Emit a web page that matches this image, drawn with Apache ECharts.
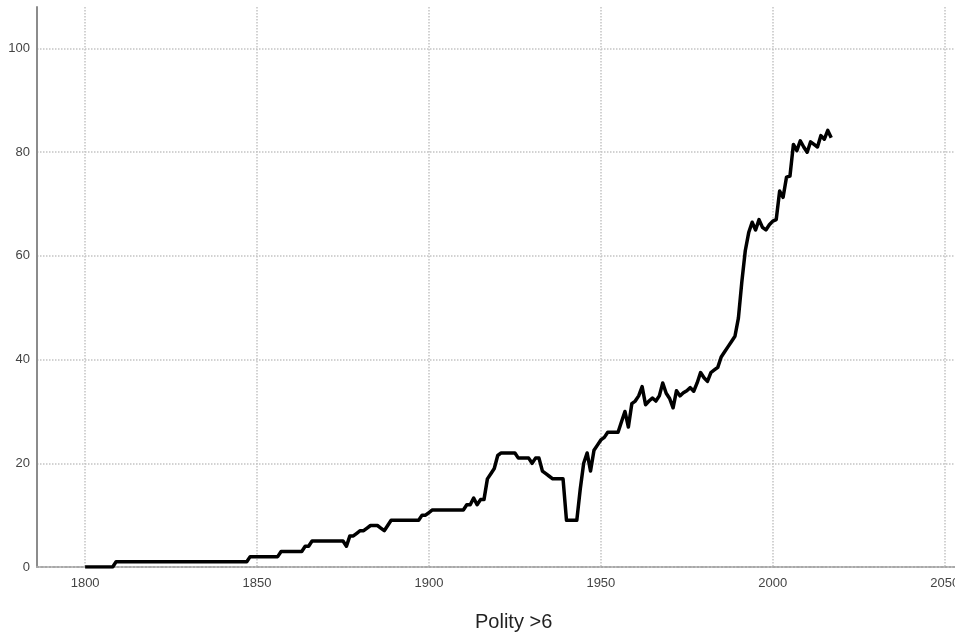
<!DOCTYPE html>
<html>
<head>
<meta charset="utf-8">
<script src="https://cdn.jsdelivr.net/npm/echarts@6/dist/echarts.min.js"></script>
<style>
html,body{margin:0;padding:0;background:#fff;}
#chart{width:955px;height:639px;}
</style>
</head>
<body>
<div id="chart"></div>
<script>
const startYear = 1800;
const polityValues = [
  // 1800-1809
  0,0,0,0,0,0,0,0,0,1,
  // 1810-1819
  1,1,1,1,1,1,1,1,1,1,
  // 1820-1829
  1,1,1,1,1,1,1,1,1,1,
  // 1830-1839
  1,1,1,1,1,1,1,1,1,1,
  // 1840-1849
  1,1,1,1,1,1,1,1,2,2,
  // 1850-1859
  2,2,2,2,2,2,2,3,3,3,
  // 1860-1869
  3,3,3,3,4,4,5,5,5,5,
  // 1870-1879
  5,5,5,5,5,5,4,6,6,6.5,
  // 1880-1889
  7,7,7.5,8,8,8,7.5,7,8,9,
  // 1890-1899
  9,9,9,9,9,9,9,9,10,10,
  // 1900-1909
  10.5,11,11,11,11,11,11,11,11,11,
  // 1910-1919
  11,12,12,13.3,12,13,13,17,18,19,
  // 1920-1929
  21.5,22,22,22,22,22,21,21,21,21,
  // 1930-1939
  20,21,21,18.5,18,17.5,17,17,17,17,
  // 1940-1949
  9,9,9,9,15,20,22,18.5,22.5,23.5,
  // 1950-1959
  24.5,25,26,26,26,26,28,30,27,31.5,
  // 1960-1969
  32,33,34.8,31.3,32,32.6,32,33,35.5,33.5,
  // 1970-1979
  32.5,30.7,34,33,33.6,34,34.6,33.9,35.5,37.5,
  // 1980-1989
  36.5,35.8,37.5,38,38.5,40.5,41.5,42.5,43.5,44.5,
  // 1990-1999
  48,55,61,64.5,66.5,65,67,65.5,65,66,
  // 2000-2009
  66.7,67,72.5,71.3,75.2,75.4,81.5,80.3,82.2,81,
  // 2010-2017
  80,82,81.5,81,83.2,82.5,84.2,82.8
];
const xTickValues = [1800, 1850, 1900, 1950, 2000, 2050];
const yTickValues = [0, 20, 40, 60, 80, 100];
const axisTitle = 'Polity >6';

const seriesData = polityValues.map((v, i) => [startYear + i, v]);

const chart = echarts.init(document.getElementById('chart'), null, {renderer: 'canvas'});
chart.setOption({
  backgroundColor: '#ffffff',
  animation: false,
  grid: {left: 37, right: 0, top: 7, bottom: 72, containLabel: false, outerBoundsMode: 'none'},
  xAxis: {
    type: 'value',
    min: 1786,
    max: 2053,
    axisLine: {show: true, lineStyle: {color: '#a8a8a8', width: 2, type: 'dotted'}},
    axisTick: {show: false, customValues: xTickValues},
    axisLabel: {
      customValues: xTickValues,
      color: '#444',
      fontFamily: 'Liberation Sans, Arial, sans-serif',
      fontSize: 13,
      margin: 10,
      formatter: v => String(v)
    },
    splitLine: {show: true, lineStyle: {color: '#c4c4c4', width: 1.5, type: 'dotted'}}
  },
  yAxis: {
    type: 'value',
    min: 0,
    max: 108,
    axisLine: {show: true, lineStyle: {color: '#8c8c8c', width: 2}},
    axisTick: {show: false, customValues: yTickValues},
    axisLabel: {
      customValues: yTickValues,
      color: '#444',
      fontFamily: 'Liberation Sans, Arial, sans-serif',
      fontSize: 13,
      margin: 7
    },
    splitLine: {show: true, lineStyle: {color: '#c4c4c4', width: 1.5, type: 'dotted'}}
  },
  graphic: [{
    type: 'text',
    left: 475,
    top: 612,
    style: {
      text: axisTitle,
      fill: '#222',
      font: '20px "Liberation Sans", Arial, sans-serif'
    }
  }],
  series: [{
    type: 'line',
    data: seriesData,
    showSymbol: false,
    symbol: 'none',
    lineStyle: {color: '#000', width: 3.5, join: 'round'},
    z: 5
  }]
});
</script>
</body>
</html>
